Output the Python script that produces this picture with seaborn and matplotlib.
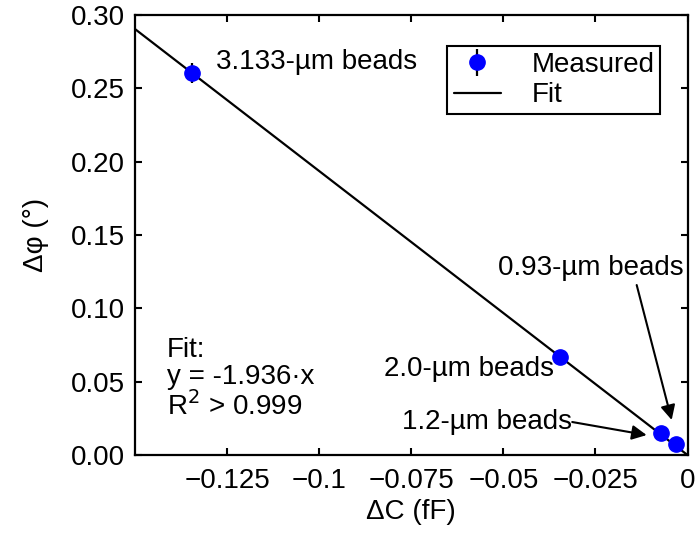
import matplotlib
matplotlib.use('Agg')
import matplotlib.pyplot as plt
import seaborn as sns

# ---------------- data ----------------
bead_labels = ['3.133-µm beads', '2.0-µm beads', '1.2-µm beads', '0.93-µm beads']
delta_c = [-0.1344, -0.0345, -0.0073, -0.0032]
delta_phi = [0.2605, 0.0668, 0.0150, 0.0075]
phi_err = [0.0070, 0.0020, 0.0010, 0.0010]

fit_slope = -1.936
fit_x = [-0.15, 0.0]

x_ticks = [-0.125, -0.1, -0.075, -0.05, -0.025, 0]
x_ticklabels = ['\u22120.125', '\u22120.1', '\u22120.075', '\u22120.05', '\u22120.025', '0']
y_ticks = [0.00, 0.05, 0.10, 0.15, 0.20, 0.25, 0.30]
y_ticklabels = ['0.00', '0.05', '0.10', '0.15', '0.20', '0.25', '0.30']

# ---------------- style ----------------
sns.set_style('ticks')
plt.rcParams['font.family'] = ['Liberation Sans', 'DejaVu Sans']
plt.rcParams['text.color'] = 'black'
plt.rcParams['axes.labelcolor'] = 'black'
FS = 20

fig = plt.figure(figsize=(6.97, 5.33), dpi=100)
ax = fig.add_axes([0.1937, 0.1463, 0.7927, 0.8256])

# fit line
fit_y = [fit_slope * v for v in fit_x]
sns.lineplot(x=fit_x, y=fit_y, color='black', linewidth=1.6, label='Fit', ax=ax)

# measured points with error bars
ax.errorbar(delta_c, delta_phi, yerr=phi_err, fmt='o', color='blue',
            ecolor='black', elinewidth=1.6, markersize=11, capsize=0,
            label='Measured', zorder=3)

ax.set_xlim(-0.15, 0)
ax.set_ylim(0, 0.30)
ax.set_xticks(x_ticks)
ax.set_xticklabels(x_ticklabels)
ax.set_yticks(y_ticks)
ax.set_yticklabels(y_ticklabels)
ax.tick_params(direction='in', length=5, width=1.5, top=True, right=True,
               labelsize=FS, colors='black')
ax.tick_params(axis='x', pad=9)
ax.tick_params(axis='y', pad=7)
for s in ax.spines.values():
    s.set_linewidth(1.6)
    s.set_color('black')
    s.set_visible(True)

ax.set_xlabel('\u0394C (fF)', fontsize=FS, labelpad=4)
ax.set_ylabel('\u0394\u03c6 (\u00b0)', fontsize=FS, labelpad=16)

# legend: Measured first, then Fit
handles, labels = ax.get_legend_handles_labels()
order = [labels.index('Measured'), labels.index('Fit')]
leg = ax.legend([handles[i] for i in order], [labels[i] for i in order],
                loc='upper right', bbox_to_anchor=(0.951, 0.9295),
                borderaxespad=0, fontsize=FS, fancybox=False, framealpha=1,
                edgecolor='black', handlelength=1.7, handletextpad=1.1,
                labelspacing=0.15, borderpad=0.22)
leg.get_frame().set_linewidth(1.5)

# annotations
arrow_kw = dict(arrowstyle='-|>', color='black', lw=1.5, mutation_scale=22,
                shrinkA=0, shrinkB=0)
ax.text(-0.1279, 0.268, bead_labels[0], fontsize=FS, va='center', ha='left')
ax.text(-0.0362, 0.0586, bead_labels[1], fontsize=FS, va='center', ha='right')
ax.text(-0.0313, 0.0225, bead_labels[2], fontsize=FS, va='center', ha='right')
ax.annotate('', xy=(-0.0111, 0.0136), xytext=(-0.0313, 0.0225), arrowprops=arrow_kw)
ax.text(-0.0262, 0.1275, bead_labels[3], fontsize=FS, va='center', ha='center')
ax.annotate('', xy=(-0.0043, 0.0239), xytext=(-0.0138, 0.1159), arrowprops=arrow_kw)

ax.text(-0.1414, 0.0805, 'Fit:\ny = -1.936\u00b7x\nR$^2$ > 0.999', fontsize=FS,
        va='top', ha='left', linespacing=1.05)

fig.savefig('out.png', dpi=100)
